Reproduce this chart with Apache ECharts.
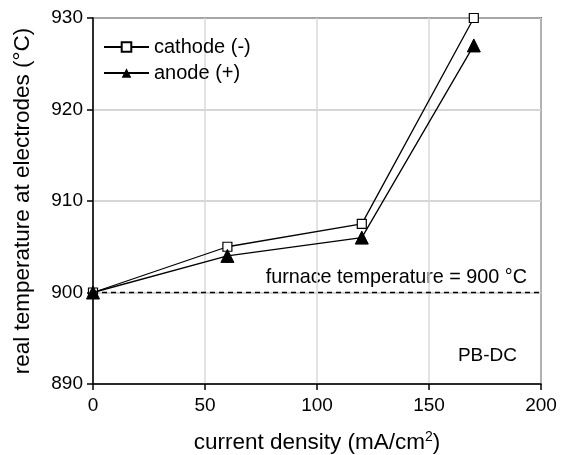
<!DOCTYPE html>
<html><head><meta charset="utf-8">
<script src="https://cdn.jsdelivr.net/npm/echarts@6/dist/echarts.min.js"></script>
<style>html,body{margin:0;padding:0;background:#fff}#c{width:567px;height:455px}</style>
</head><body><div id="c"></div>
<script>
const currentDensity = [0, 60, 120, 170];
const cathode = [900, 905, 907.5, 930];
const anode = [900, 904, 906, 927];
const furnaceTemp = 900;
const xTicks = [0, 50, 100, 150, 200];
const yTicks = [890, 900, 910, 920, 930];

const F = 'Liberation Sans, Arial, sans-serif';
const chart = echarts.init(document.getElementById('c'));
chart.setOption({
  animation: false,
  grid: {left: 93, right: 26, top: 18, bottom: 71, outerBoundsMode: 'none', containLabel: false, show: true, borderColor: '#000', borderWidth: 1.5, backgroundColor: 'transparent'},
  legend: {
    left: 98, top: 32, orient: 'vertical', itemGap: 6, itemWidth: 45, itemHeight: 12,
    textStyle: {fontFamily: F, fontSize: 20, color: '#000'},
    data: ['cathode (-)', 'anode (+)']
  },
  xAxis: {
    type: 'value', min: 0, max: 200, interval: 50,
    name: 'current density (mA/cm{sup|2})', nameLocation: 'middle', nameGap: 46,
    nameTextStyle: {fontFamily: F, fontSize: 22.5, color: '#000', rich: {sup: {fontFamily: F, fontSize: 14, verticalAlign: 'top', padding: [0,0,12,0], color: '#000'}}},
    axisLine: {lineStyle: {color: '#000', width: 1.5}},
    axisTick: {inside: false, length: 6, lineStyle: {color: '#000', width: 1.5}},
    axisLabel: {fontFamily: F, fontSize: 19, color: '#000', margin: 12},
    splitLine: {show: true, lineStyle: {color: '#d8d8d8', width: 1.5}}
  },
  yAxis: {
    type: 'value', min: 890, max: 930, interval: 10,
    name: 'real temperature at electrodes (°C)', nameLocation: 'middle', nameGap: 59,
    nameTextStyle: {fontFamily: F, fontSize: 22.5, color: '#000'},
    axisLine: {show: true, lineStyle: {color: '#000', width: 1.5}},
    axisTick: {show: true, inside: false, length: 6, lineStyle: {color: '#000', width: 1.5}},
    axisLabel: {fontFamily: F, fontSize: 19, color: '#000', margin: 10},
    splitLine: {show: true, lineStyle: {color: '#c8c8c8', width: 1.5}}
  },
  series: [
    {
      name: 'cathode (-)', type: 'line', clip: false,
      data: currentDensity.map((x, i) => [x, cathode[i]]),
      symbol: 'rect', symbolSize: 9,
      lineStyle: {color: '#000', width: 1.3},
      itemStyle: {color: '#fff', borderColor: '#000', borderWidth: 1.2},
      z: 5,
      markLine: {
        silent: true, symbol: 'none',
        lineStyle: {color: '#000', type: [5, 4], width: 1.3},
        label: {show: false},
        data: [{yAxis: furnaceTemp}]
      }
    },
    {
      name: 'anode (+)', type: 'line', clip: false,
      data: currentDensity.map((x, i) => [x, anode[i]]),
      symbol: 'triangle', symbolSize: 13,
      lineStyle: {color: '#000', width: 1.3},
      itemStyle: {color: '#000', borderColor: '#000'},
      z: 6
    }
  ],
  graphic: [
    {type: 'text', right: 40, top: 268, style: {text: 'furnace temperature = 900 °C', font: '19.8px ' + F, fill: '#000'}},
    {type: 'text', right: 50, top: 346, style: {text: 'PB-DC', font: '19px ' + F, fill: '#000'}}
  ]
});
</script></body></html>
